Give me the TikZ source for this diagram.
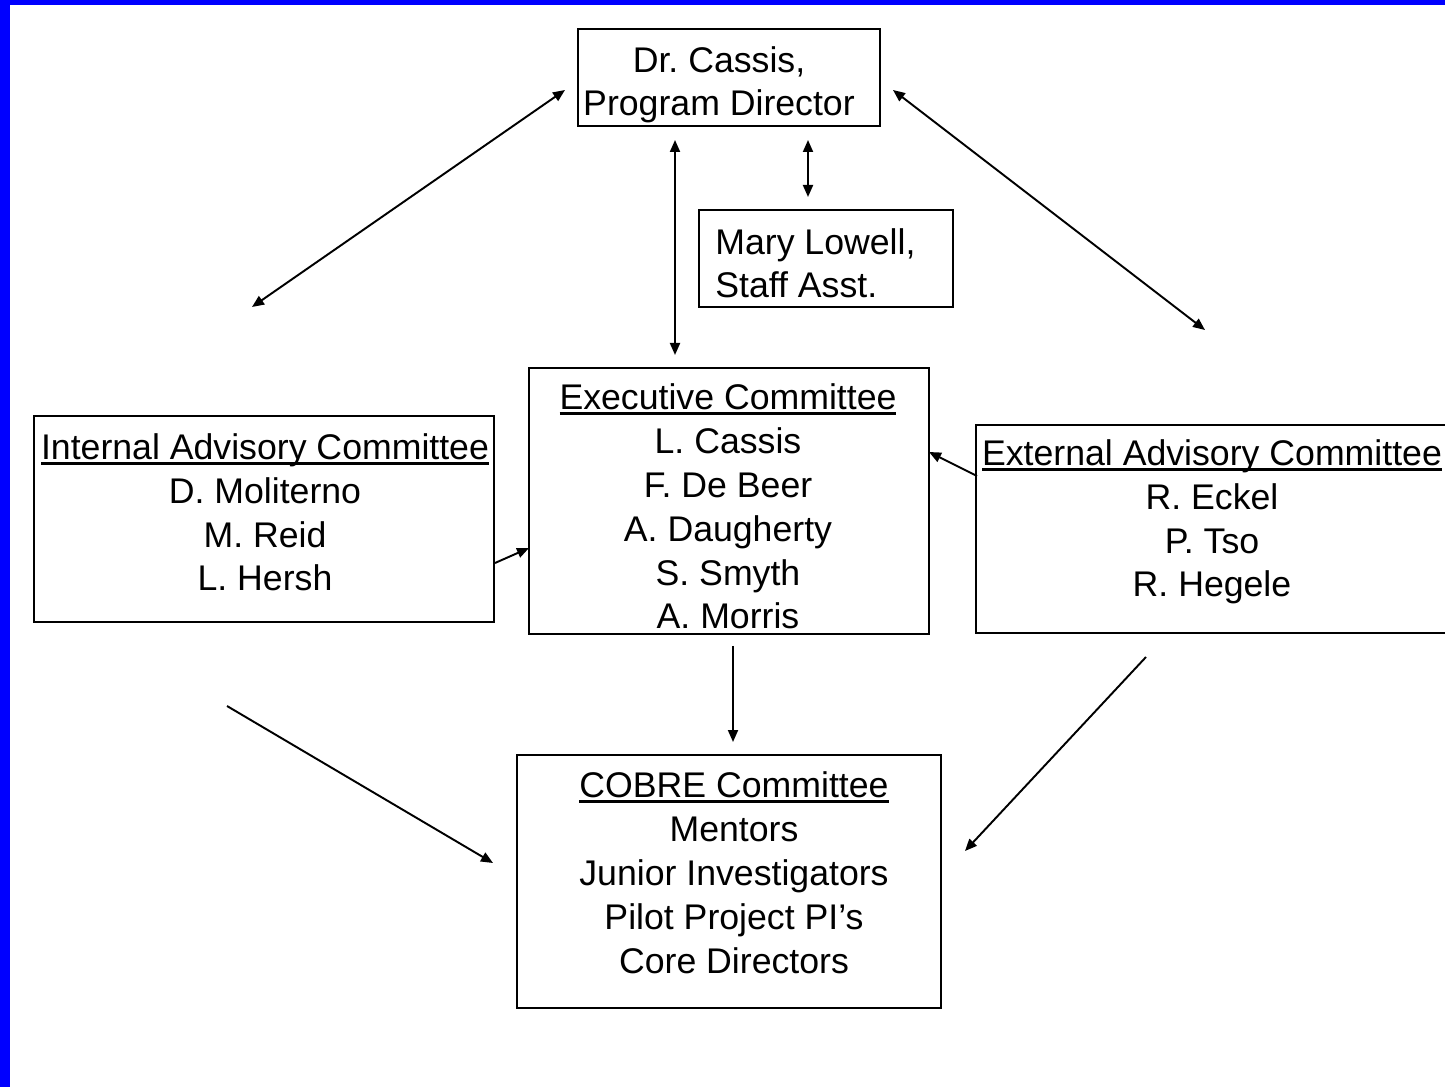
\documentclass[tikz,border=0pt]{standalone}
\usepackage{fontspec}
\setmainfont{Liberation Sans}
\usetikzlibrary{arrows.meta}
\frenchspacing
\newcommand\ulhead[1]{\setbox0\hbox{#1}\rlap{\rule[-3.1pt]{\wd0}{1.4pt}}\box0}
\begin{document}
\begin{tikzpicture}[x=0.02cm,y=-0.02cm,
  box/.style={draw,line width=1.1pt,inner sep=0pt},
  txt/.style={inner sep=0pt,font=\fontsize{20.3}{25}\selectfont},
  conn/.style={line width=1.1pt,-{Triangle[length=0.24cm,width=0.2cm]}},
  biconn/.style={line width=1.1pt,{Triangle[length=0.24cm,width=0.2cm]}-{Triangle[length=0.24cm,width=0.2cm]}}]
\useasboundingbox (0,0) rectangle (1445,1087);
\clip (0,0) rectangle (1445,1087);
\fill[white] (0,0) rectangle (1445,1087);
\fill[blue] (0,0) rectangle (10,1087);
\fill[blue] (0,0) rectangle (1445,5);
% boxes
\node[box,minimum width=6.04cm,minimum height=1.94cm] (dir) at (729,77.5) {};
\node[box,minimum width=5.08cm,minimum height=1.94cm] (mary) at (826,258.5) {};
\node[box,minimum width=8cm,minimum height=5.32cm] (exec) at (729,501) {};
\node[box,minimum width=9.2cm,minimum height=4.12cm] (int) at (264,519) {};
\node[box,minimum width=10.48cm,minimum height=4.16cm] (ext) at (1238,529) {};
\node[box,minimum width=8.48cm,minimum height=5.06cm] (cobre) at (729,881.5) {};
% texts
\node[txt,align=center,anchor=base] (dirt) at (719,116) {Dr. Cassis,\\Program Director};
\node[txt,align=left,anchor=base west] (maryt) at (715,298) {Mary Lowell,\\Staff Asst.};
\node[txt,align=center,anchor=base] (exect) at (728,629) {\ulhead{Executive Committee}\\L. Cassis\\F. De Beer\\A. Daugherty\\S. Smyth\\A. Morris};
\node[txt,align=center,anchor=base] (intt) at (265,591) {\ulhead{Internal Advisory Committee}\\D. Moliterno\\M. Reid\\L. Hersh};
\node[txt,align=center,anchor=base] (extt) at (1212,597) {\ulhead{External Advisory Committee}\\R. Eckel\\P. Tso\\R. Hegele};
\node[txt,align=center,anchor=base] (cobret) at (734,973) {\ulhead{COBRE Committee}\\Mentors\\Junior Investigators\\Pilot Project PI’s\\Core Directors};
% connector end points
\coordinate (a1) at (565,90);   \coordinate (a2) at (252,307);
\coordinate (b1) at (893,90);   \coordinate (b2) at (1205,330);
\coordinate (c1) at (675,140);  \coordinate (c2) at (675,355);
\coordinate (d1) at (808,140);  \coordinate (d2) at (808,197);
\coordinate (e1) at (495,563);  \coordinate (e2) at (529,548);
\coordinate (f1) at (977,476);  \coordinate (f2) at (929,452);
\coordinate (g1) at (733,646);  \coordinate (g2) at (733,742);
\coordinate (h1) at (227,706);  \coordinate (h2) at (493,863);
\coordinate (i1) at (1146,657); \coordinate (i2) at (965,851);
% connectors
\draw[biconn] (a1) -- (a2);
\draw[biconn] (b1) -- (b2);
\draw[biconn] (c1) -- (c2);
\draw[biconn] (d1) -- (d2);
\draw[conn] (e1) -- (e2);
\draw[conn] (f1) -- (f2);
\draw[conn] (g1) -- (g2);
\draw[conn] (h1) -- (h2);
\draw[conn] (i1) -- (i2);
\end{tikzpicture}
\end{document}
